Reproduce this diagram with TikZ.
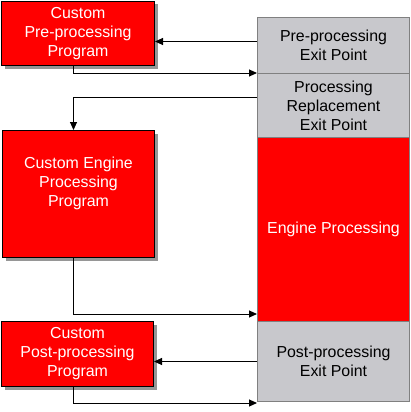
\documentclass[tikz,border=0pt]{standalone}
\usepackage{fontspec}
\setmainfont{Liberation Sans}
\usetikzlibrary{arrows.meta,shadows}
\definecolor{boxred}{RGB}{255,0,0}
\definecolor{boxgray}{RGB}{200,200,204}
\definecolor{edgegray}{RGB}{128,128,128}
\definecolor{shadowgray}{RGB}{150,150,150}
\begin{document}
\begin{tikzpicture}[x=1pt,y=-1pt,
  redbox/.style={draw=black,line width=1pt,fill=boxred,text=white,align=center,
    anchor=north west,inner sep=0pt,
    drop shadow={shadow xshift=3pt,shadow yshift=-3pt,fill=shadowgray,opacity=1}},
  graybox/.style={draw=edgegray,line width=1pt,fill=boxgray,text=black,align=center,
    anchor=north west,inner sep=0pt,minimum width=152pt},
  arr/.style={draw=black,line width=1pt,-{Triangle[length=8pt,width=7pt]}},
  every node/.style={font=\fontsize{15.9pt}{19pt}\selectfont}]
\useasboundingbox (0,0) rectangle (411,412);
% left boxes
\node[redbox,minimum width=153pt,minimum height=64pt] (c1) at (1,1)
  {Custom\\Pre-processing\\Program};
\node[redbox,minimum width=152pt,minimum height=127pt,
  label={[text=white,align=center,yshift=11pt,font=\fontsize{15.9pt}{19pt}\selectfont]center:{Custom Engine\\Processing\\Program}}] (c2) at (2,130) {};
\node[redbox,minimum width=152pt,minimum height=65pt] (c3) at (1,321)
  {Custom\\Post-processing\\Program};
% right column
\node[graybox,minimum height=56pt] (pre) at (257,17) {Pre-processing\\Exit Point};
\node[graybox,minimum height=64pt] (repl) at (257,73) {Processing\\Replacement\\Exit Point};
\node[graybox,fill=boxred,text=white,minimum height=184pt] (eng) at (257,137) {Engine Processing};
\node[graybox,minimum height=80pt] (post) at (257,321) {Post-processing\\Exit Point};
% connectors
\draw[arr] ([yshift=4pt]pre.west) -- ([yshift=4pt]pre.west -| c1.east);
\draw[arr] ([xshift=-4.5pt]c1.south) |- (repl.north west);
\draw[arr] ([yshift=8pt]repl.west) -| ([xshift=-5pt]c2.north);
\draw[arr] ([xshift=-5pt]c2.south) |- ([yshift=8pt]eng.south west);
\draw[arr] (post.west) -- (post.west -| c3.east);
\draw[arr] ([xshift=-4.5pt]c3.south) |- ([yshift=-1pt]post.south west);
\end{tikzpicture}
\end{document}
